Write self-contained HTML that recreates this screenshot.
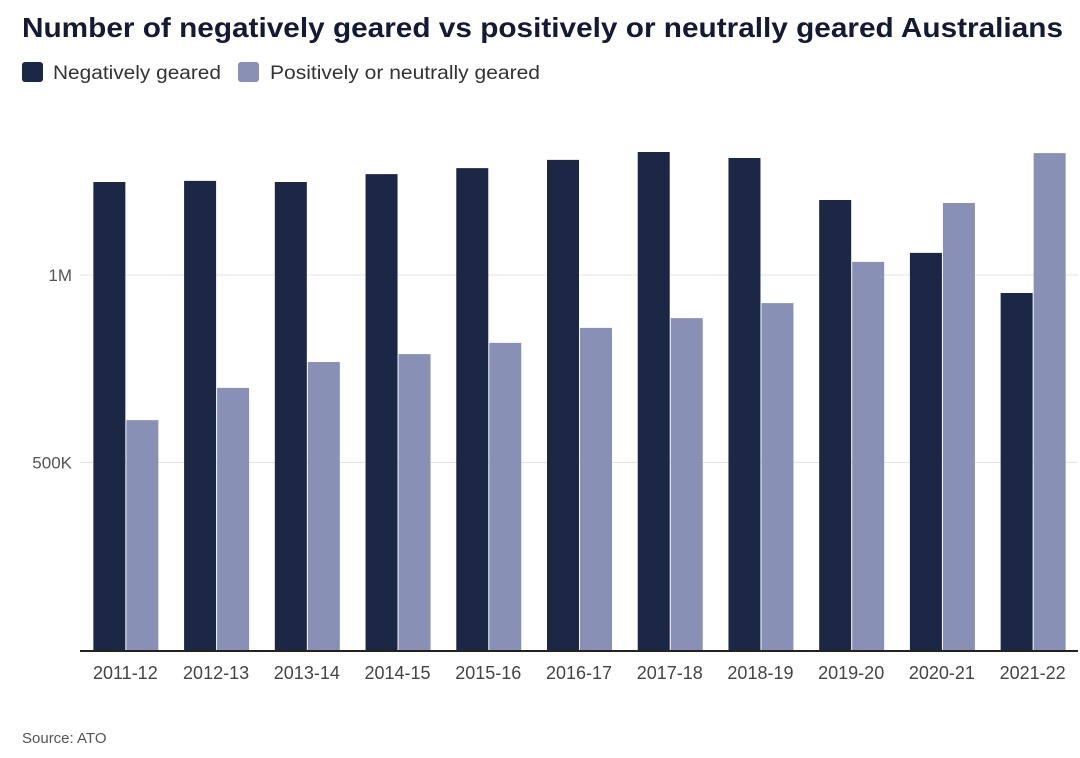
<!DOCTYPE html>
<html><head><meta charset="utf-8"><style>
body{margin:0;background:#fff;width:1080px;height:753px;overflow:hidden;font-family:"Liberation Sans",sans-serif}
</style></head><body>
<svg id="chart" width="1080" height="753">
<text x="22" y="37" font-size="28" font-weight="bold" fill="#141a33" textLength="1041" lengthAdjust="spacingAndGlyphs">Number of negatively geared vs positively or neutrally geared Australians</text>
<g>
<rect x="22" y="62" width="21" height="20" rx="3" fill="#1c2645"/>
<text x="53" y="79" font-size="19" fill="#333" textLength="168" lengthAdjust="spacingAndGlyphs">Negatively geared</text>
<rect x="238" y="62" width="21" height="20" rx="3" fill="#8891b5"/>
<text x="270" y="79" font-size="19" fill="#333" textLength="270" lengthAdjust="spacingAndGlyphs">Positively or neutrally geared</text>
</g>
<g id="grid"></g><g id="bars"></g><g id="xlabels"></g>
<text x="22" y="743" font-size="15" fill="#555">Source: ATO</text>
</svg>
<script>
const categories=["2011-12","2012-13","2013-14","2014-15","2015-16","2016-17","2017-18","2018-19","2019-20","2020-21","2021-22"];
const negative=[1248,1251,1248,1269,1285,1307,1328,1312,1200,1059,952];
const positive=[613,699,768,789,819,859,885,925,1035,1192,1325];
const yTicks=[500,1000];
const yTickLabels=["500K","1M"];
const NS="http://www.w3.org/2000/svg";
const left=80,right=1078,base=650,kpx=0.375;
const band=(right-left)/categories.length;
const y=v=>base-v*kpx;
const xc=i=>left+band*(i+0.5);
function mk(tag,attrs,parent){const e=document.createElementNS(NS,tag);for(const k in attrs)e.setAttribute(k,attrs[k]);parent.appendChild(e);return e;}
const grid=document.getElementById('grid'),bars=document.getElementById('bars'),xl=document.getElementById('xlabels');
yTicks.forEach((t,i)=>{
 const l=mk('line',{x1:left,x2:right,y1:y(t),y2:y(t),stroke:'#e3e3e3','stroke-width':1},grid);
 
 
 const tx=mk('text',{x:72,y:y(t)+6,'font-size':17,fill:'#555','text-anchor':'end'},grid);
 tx.textContent=yTickLabels[i];
 
 
});
categories.forEach((c,i)=>{
 const b1=mk('rect',{x:xc(i)-32,y:y(negative[i]),width:32,height:negative[i]*kpx,fill:'#1c2645'},bars);
 
 
 const b2=mk('rect',{x:xc(i)+1,y:y(positive[i]),width:32,height:positive[i]*kpx,fill:'#8891b5'},bars);
 
 
 const t=mk('text',{x:xc(i),y:679,'font-size':18,fill:'#444','text-anchor':'middle'},xl);
 t.textContent=c;
 
 
});
const ax=mk('line',{x1:left,x2:right,y1:base+1,y2:base+1,stroke:'#222','stroke-width':2},xl);


</script>
</body></html>
